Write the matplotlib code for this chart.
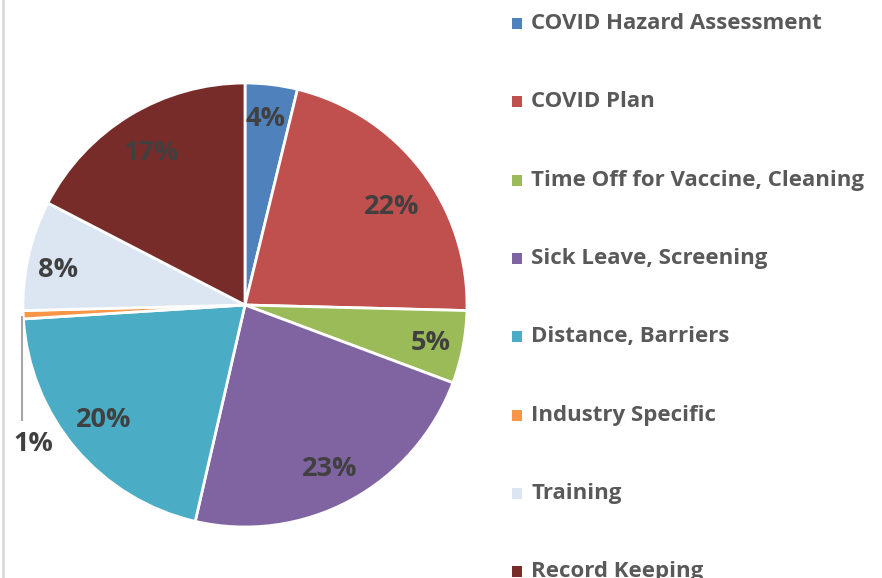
import matplotlib
matplotlib.use("Agg")
import matplotlib.pyplot as plt
from matplotlib.patches import Rectangle
from matplotlib.lines import Line2D

# data (share of items, %)
categories = ["COVID Hazard Assessment", "COVID Plan", "Time Off for Vaccine, Cleaning",
              "Sick Leave, Screening", "Distance, Barriers", "Industry Specific",
              "Training", "Record Keeping"]
shares = [3.8, 21.6, 5.3, 22.9, 20.4, 0.6, 8.0, 17.4]
colors = ["#4F81BD", "#C0504D", "#9BBB59", "#8064A2", "#4BACC6", "#F79646",
          "#DCE6F2", "#772C2A"]

W, H = 882, 578
cx, cy, r = 245, 305, 222  # pie centre / radius in pixels

# where the percentage labels sit (pixels, from the top-left)
label_px = [(266, 116), (392, 204), (431, 340), (330, 466),
            (104, 417), (33, 441), (58, 267), (151, 150)]

plt.rcParams['font.family'] = ['Open Sans', 'DejaVu Sans']

fig = plt.figure(figsize=(W / 100, H / 100), dpi=100)
ax = fig.add_axes([0, 0, 490 / W, 1])
ax.axis('off')

wedges, texts, autotexts = ax.pie(
    shares, colors=colors, startangle=90, counterclock=False, radius=1,
    autopct='%.0f%%', pctdistance=0.82,
    wedgeprops=dict(edgecolor='white', linewidth=2),
    textprops=dict(color='#404040', fontsize=19.5, fontweight='bold'))
ax.set_xlim(-cx / r, (490 - cx) / r)
ax.set_ylim((cy - H) / r, cy / r)
ax.set_aspect('auto')

for t, (px, py) in zip(autotexts, label_px):
    # +3 px: va='center' includes the font descent, digits have none
    t.set_position(((px - cx) / r, (cy - py - 3) / r))

# leader line for the tiny slice
ax.add_line(Line2D([(22 - cx) / r] * 2, [(cy - 317) / r, (cy - 420) / r],
                   color='#A6A6A6', linewidth=1.5))

# legend drawn by hand to match the wide spacing
for i, (name, col) in enumerate(zip(categories, colors)):
    y = 23.5 + 78.3 * i
    fig.patches.append(Rectangle((512 / W, 1 - (y + 5.5) / H), 10 / W, 11 / H,
                                 transform=fig.transFigure, facecolor=col,
                                 edgecolor='none'))
    fig.text(531 / W, 1 - y / H, name, fontsize=16, fontweight='bold',
             color='#595959', va='center', ha='left')

# thin border at the left edge
fig.add_artist(Line2D([3 / W, 3 / W], [0, 1], transform=fig.transFigure,
                      color='#D9D9D9', linewidth=2))

fig.savefig("out.png", dpi=100)
